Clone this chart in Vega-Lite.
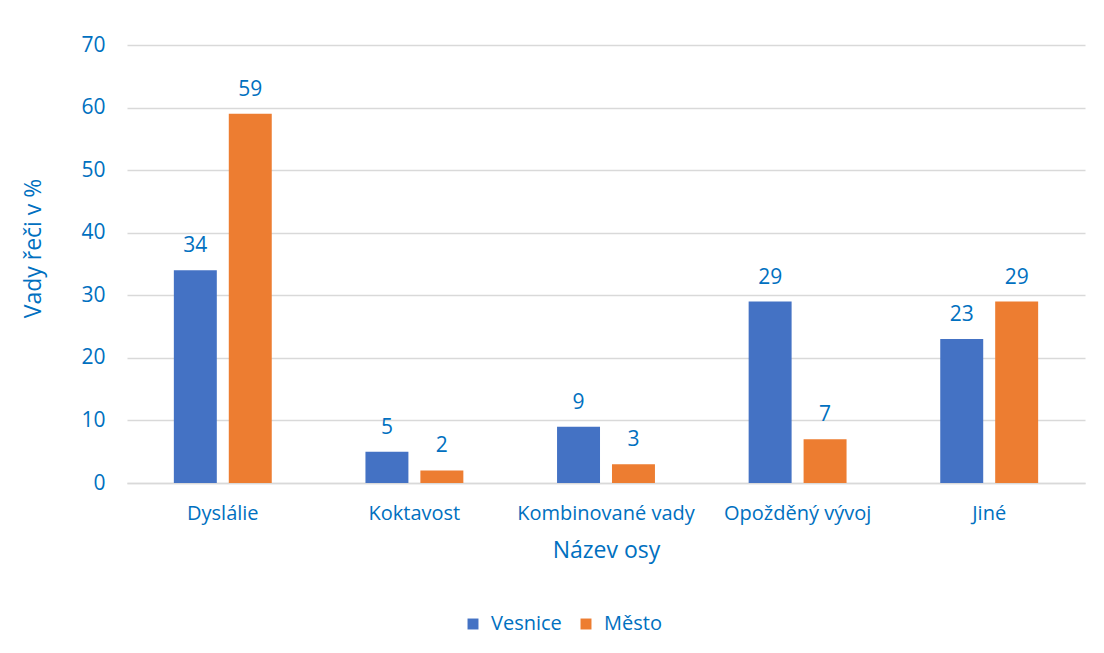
{
  "$schema": "https://vega.github.io/schema/vega-lite/v6.json",
  "width": 958,
  "height": 438,
  "autosize": {"type": "none"},
  "padding": {"left": 127, "top": 45, "right": 19, "bottom": 170},
  "background": "white",
  "config": {
    "font": "Open Sans",
    "view": {"stroke": null}
  },
  "data": {
    "values": [
      {"kategorie": "Dyslálie", "skupina": "Vesnice", "hodnota": 34},
      {"kategorie": "Dyslálie", "skupina": "Město", "hodnota": 59},
      {"kategorie": "Koktavost", "skupina": "Vesnice", "hodnota": 5},
      {"kategorie": "Koktavost", "skupina": "Město", "hodnota": 2},
      {"kategorie": "Kombinované vady", "skupina": "Vesnice", "hodnota": 9},
      {"kategorie": "Kombinované vady", "skupina": "Město", "hodnota": 3},
      {"kategorie": "Opožděný vývoj", "skupina": "Vesnice", "hodnota": 29},
      {"kategorie": "Opožděný vývoj", "skupina": "Město", "hodnota": 7},
      {"kategorie": "Jiné", "skupina": "Vesnice", "hodnota": 23},
      {"kategorie": "Jiné", "skupina": "Město", "hodnota": 29}
    ]
  },
  "encoding": {
    "x": {
      "field": "kategorie",
      "type": "nominal",
      "sort": null,
      "scale": {"paddingInner": 0.489, "paddingOuter": 0.2445},
      "axis": {
        "title": "Název osy",
        "titleColor": "#0070C0",
        "titleFontSize": 23,
        "titleFontWeight": "normal",
        "titlePadding": 16,
        "labelColor": "#0070C0",
        "labelFontSize": 20,
        "labelAngle": 0,
        "labelPadding": 20,
        "ticks": false,
        "domain": true,
        "domainColor": "#D9D9D9",
        "domainWidth": 1.5
      }
    },
    "xOffset": {
      "field": "skupina",
      "type": "nominal",
      "sort": ["Vesnice", "Město"],
      "scale": {"paddingInner": 0.218, "paddingOuter": 0}
    },
    "y": {
      "field": "hodnota",
      "type": "quantitative",
      "scale": {"domain": [0, 70], "nice": false},
      "axis": {
        "values": [0, 10, 20, 30, 40, 50, 60, 70],
        "title": "Vady řeči v %",
        "titleColor": "#0070C0",
        "titleFontSize": 23,
        "titleFontWeight": "normal",
        "titleX": -94,
        "titleY": 203,
        "titleAngle": -90,
        "titleAlign": "center",
        "titleBaseline": "middle",
        "labelColor": "#0070C0",
        "labelFontSize": 21,
        "labelPadding": 22,
        "ticks": false,
        "domain": false,
        "grid": true,
        "gridColor": "#D9D9D9",
        "gridWidth": 1.5
      }
    },
    "color": {
      "field": "skupina",
      "type": "nominal",
      "sort": ["Vesnice", "Město"],
      "scale": {"domain": ["Vesnice", "Město"], "range": ["#4472C4", "#ED7D31"]},
      "legend": {
        "title": null,
        "orient": "none",
        "direction": "horizontal",
        "legendX": 336,
        "legendY": 569,
        "symbolType": "square",
        "symbolSize": 120,
        "symbolStrokeWidth": 0,
        "symbolOpacity": 1,
        "labelColor": "#0070C0",
        "labelFontSize": 20,
        "labelOffset": 8,
        "columnPadding": 14,
        "symbolOffset": 0
      }
    }
  },
  "layer": [
    {"mark": {"type": "bar"}},
    {
      "mark": {"type": "text", "baseline": "alphabetic", "dy": -18, "fontSize": 21, "color": "#0070C0"},
      "encoding": {"text": {"field": "hodnota", "type": "quantitative"}, "color": {"value": "#0070C0"}}
    }
  ]
}
